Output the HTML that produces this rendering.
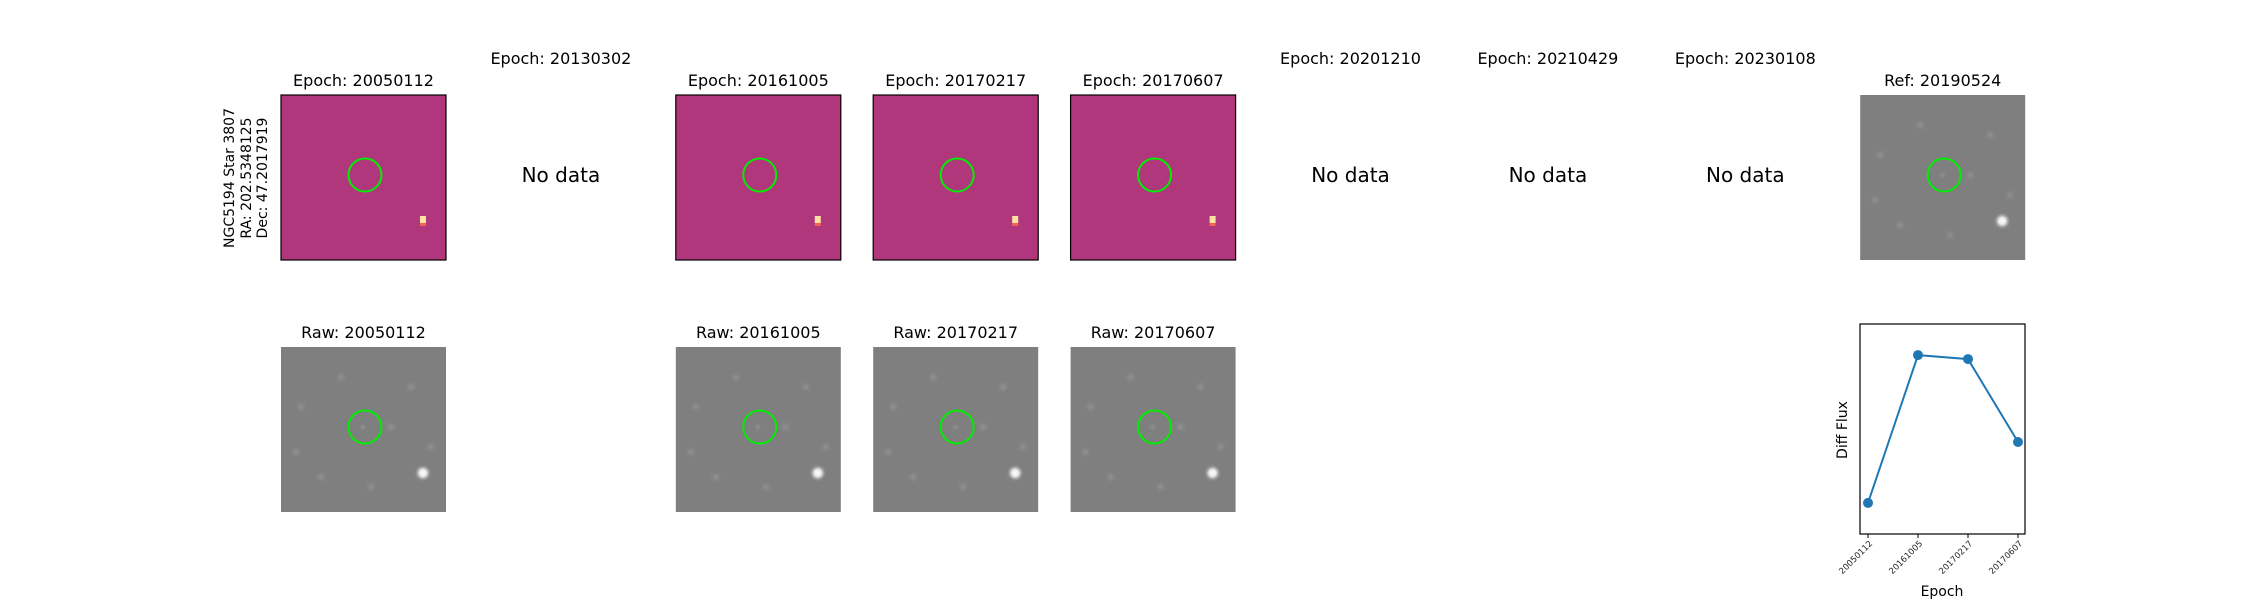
<!DOCTYPE html>
<html><head><meta charset="utf-8"><style>
html,body{margin:0;padding:0;background:#fff;}
svg{display:block;font-family:"DejaVu Sans","Liberation Sans",sans-serif;}
</style></head><body>
<svg id="fig" width="2250" height="600" viewBox="0 0 2250 600" xmlns="http://www.w3.org/2000/svg">
<defs>
<radialGradient id="star"><stop offset="0" stop-color="#fff"/><stop offset="0.4" stop-color="#e8e8e8"/><stop offset="1" stop-color="#808080" stop-opacity="0"/></radialGradient>
<radialGradient id="faint"><stop offset="0" stop-color="#939393"/><stop offset="1" stop-color="#808080" stop-opacity="0"/></radialGradient>
</defs>
<g font-size="14" fill="#000" text-anchor="middle">
<text transform="translate(234,178) rotate(-90)">NGC5194 Star 3807</text>
<text transform="translate(251,178) rotate(-90)">RA: 202.5348125</text>
<text transform="translate(267,178) rotate(-90)">Dec: 47.2017919</text>
</g>
<g id="panels"></g>
<g id="chart"></g>
</svg>
<script>
const epochs = ["20050112","20130302","20161005","20170217","20170607","20201210","20210429","20230108"];
const hasData = [true,false,true,true,true,false,false,false];
const refEpoch = "20190524";
const fluxEpochs = ["20050112","20161005","20170217","20170607"];
const fluxValues = [0.148,0.852,0.833,0.438];
const yDomain = [0,1];

const NS="http://www.w3.org/2000/svg";
function mk(tag,attrs,parent,text){const e=document.createElementNS(NS,tag);for(const k in attrs)e.setAttribute(k,attrs[k]);if(text!==undefined)e.textContent=text;parent.appendChild(e);return e;}
const panels=document.getElementById('panels');
const X0=281, STEP=197.4, W=165, TOP=95, RAWTOP=347;

function rawImg(g,x,y){
  mk('rect',{x:x,y:y,width:W,height:W,fill:'#7f7f7f'},g);
  [[20,60],[60,30],[110,80],[130,40],[40,130],[90,140],[15,105],[150,100]].forEach(p=>mk('circle',{cx:x+p[0],cy:y+p[1],r:7,fill:'url(#faint)'},g));
  mk('circle',{cx:x+82,cy:y+80,r:5,fill:'url(#faint)'},g);
  mk('circle',{cx:x+142,cy:y+126,r:9,fill:'url(#star)'},g);
}
epochs.forEach((ep,i)=>{
  const x=X0+STEP*i, cx=x+W/2;
  const g=mk('g',{},panels);
  
  
  if(hasData[i]){
    const t=mk('text',{x:cx,y:86,'font-size':16,'text-anchor':'middle'},g,'Epoch: '+ep);
    
    
    const d=mk('g',{},g);
    
    
    mk('rect',{x:x,y:TOP,width:W,height:W,fill:'#b1377c'},d);
    mk('rect',{x:x+139,y:TOP+121,width:6,height:7,fill:'#fde2a2'},d);
    mk('rect',{x:x+139,y:TOP+128,width:6,height:3,fill:'#f0605d'},d);
    mk('circle',{cx:x+84,cy:TOP+80,r:16.5,fill:'none',stroke:'#00ee00','stroke-width':2},d);
    mk('rect',{x:x,y:TOP,width:W,height:W,fill:'none',stroke:'#000','stroke-width':1.2},d);
    const rt=mk('text',{x:cx,y:338,'font-size':16,'text-anchor':'middle'},g,'Raw: '+ep);
    
    
    const r=mk('g',{},g);
    
    
    rawImg(r,x,RAWTOP);
    mk('circle',{cx:x+84,cy:RAWTOP+80,r:16.5,fill:'none',stroke:'#00ee00','stroke-width':2},r);
  } else {
    const t=mk('text',{x:cx,y:64,'font-size':16,'text-anchor':'middle'},g,'Epoch: '+ep);
    
    
    const n=mk('text',{x:cx,y:182,'font-size':20,'text-anchor':'middle'},g,'No data');
    
    
  }
});
{
  const x=X0+STEP*8;
  const g=mk('g',{},panels);
  
  
  mk('text',{x:x+W/2,y:86,'font-size':16,'text-anchor':'middle'},g,'Ref: '+refEpoch);
  rawImg(g,x,TOP);
  mk('circle',{cx:x+84,cy:TOP+80,r:16.5,fill:'none',stroke:'#00ee00','stroke-width':2},g);
}
const chart=document.getElementById('chart');
const AX={l:1860,r:2025,t:324,b:534};
const xPos=i=>1868+(2018-1868)*i/(fluxEpochs.length-1);
const yPos=v=>AX.b-(v-yDomain[0])/(yDomain[1]-yDomain[0])*(AX.b-AX.t);
const frame=mk('rect',{x:AX.l,y:AX.t,width:AX.r-AX.l,height:AX.b-AX.t,fill:'#fff',stroke:'#000','stroke-width':1.2},chart);


fluxEpochs.forEach((ep,i)=>{
  const x=xPos(i);
  mk('line',{x1:x,y1:AX.b,x2:x,y2:AX.b+4,stroke:'#000','stroke-width':1},chart);
  const t=mk('text',{x:x+5,y:AX.b+10,'font-size':8.5,'text-anchor':'end',transform:`rotate(-45 ${x+5} ${AX.b+10})`,fill:'#222'},chart,ep);
  
  
});
const line=mk('polyline',{points:fluxValues.map((v,i)=>xPos(i)+','+yPos(v)).join(' '),fill:'none',stroke:'#1f77b4','stroke-width':2},chart);


fluxValues.forEach((v,i)=>{
  const c=mk('circle',{cx:xPos(i),cy:yPos(v),r:5,fill:'#1f77b4'},chart);
  
  
});
const yl=mk('text',{x:0,y:0,'font-size':14,'text-anchor':'middle',transform:'translate(1847,430) rotate(-90)'},chart,'Diff Flux');


const xl=mk('text',{x:1942,y:596,'font-size':14,'text-anchor':'middle'},chart,'Epoch');


</script>
</body></html>
